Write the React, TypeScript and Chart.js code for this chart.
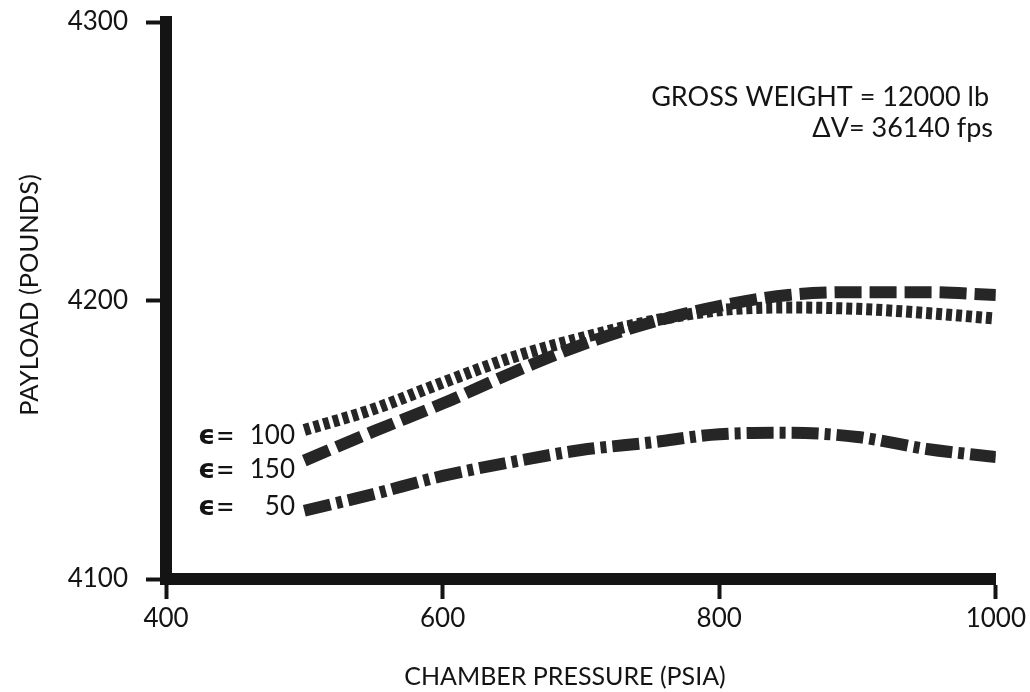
import React, { useEffect, useRef } from "react";
import { Chart, registerables } from "chart.js";

Chart.register(...registerables);

// Chamber pressure (psia) at which each payload curve is sampled
const pressure = [500, 550, 600, 650, 700, 750, 800, 850, 900, 950, 1000];

// Payload (lb) for each nozzle expansion ratio
const eps100 = [4153.5, 4161, 4170.5, 4179.5, 4186.5, 4192.5, 4196.5, 4197.5, 4197, 4195.5, 4193.5];
const eps150 = [4142.5, 4153, 4163, 4174, 4184, 4192, 4198, 4202, 4203, 4203, 4202];
const eps50 = [4124.5, 4130.5, 4137, 4142, 4146.3, 4149, 4152, 4152.5, 4151, 4146.7, 4143.8];

const xTicks = [400, 600, 800, 1000];
const yTicks = [4100, 4200, 4300];

const ratioLabels = ["100", "150", "50"];
const noteLines = ["GROSS WEIGHT = 12000 lb", "ΔV= 36140 fps"];
const xTitle = "CHAMBER PRESSURE (PSIA)";
const yTitle = "PAYLOAD (POUNDS)";

const FONT = "Lato, 'Noto Sans', sans-serif";
const INK = "#141414";
const CURVE = "#262626";

const textPlugin = {
  id: "chartText",
  afterDraw(chart: any) {
    const ctx = chart.ctx as CanvasRenderingContext2D;
    ctx.save();
    ctx.fillStyle = INK;
    ctx.textBaseline = "middle";

    // axis titles
    ctx.font = `25px ${FONT}`;
    ctx.textAlign = "center";
    ctx.fillText(xTitle, 565, 677);
    ctx.save();
    ctx.translate(30, 295);
    ctx.rotate(-Math.PI / 2);
    ctx.font = `25.5px ${FONT}`;
    ctx.fillText(yTitle, 0, 0);
    ctx.restore();

    // gross weight / delta-V note
    ctx.font = `27px ${FONT}`;
    ctx.textAlign = "right";
    ctx.fillText(noteLines[0], 989, 97);
    ctx.fillText(noteLines[1], 993, 128);

    // curve labels: "ϵ=" then the expansion ratio, right-aligned
    const ys = [436, 470, 507];
    ratioLabels.forEach((num, i) => {
      ctx.textAlign = "left";
      ctx.font = `bold 27px 'DejaVu Sans', sans-serif`;
      ctx.fillText("ϵ", 198, ys[i] + 1);
      ctx.font = `32px ${FONT}`;
      ctx.fillText("=", 216, ys[i] + 1);
      ctx.font = `26px ${FONT}`;
      ctx.textAlign = "right";
      ctx.fillText(num, 295, ys[i]);
    });
    ctx.restore();
  },
};

export default function App() {
  const ref = useRef<HTMLCanvasElement>(null);

  useEffect(() => {
    if (!ref.current) return;
    const mk = (x: number[], y: number[]) => x.map((v, i) => ({ x: v, y: y[i] }));
    const base = {
      borderColor: CURVE,
      borderWidth: 12,
      pointRadius: 0,
      fill: false,
      tension: 0.4,
      cubicInterpolationMode: "monotone" as const,
      borderCapStyle: "butt" as const,
    };
    const chart = new Chart(ref.current, {
      type: "line",
      data: {
        datasets: [
          { ...base, label: "ϵ= " + ratioLabels[0], data: mk(pressure, eps100), borderDash: [6, 4] },
          { ...base, label: "ϵ= " + ratioLabels[1], data: mk(pressure, eps150), borderDash: [27, 8] },
          { ...base, label: "ϵ= " + ratioLabels[2], data: mk(pressure, eps50), borderDash: [27, 6, 6, 6] },
        ],
      },
      options: {
        responsive: false,
        animation: false,
        layout: { padding: { top: 22, right: 31, bottom: 0, left: 0 } },
        plugins: { legend: { display: false }, tooltip: { enabled: false }, title: { display: false } },
        scales: {
          x: {
            type: "linear",
            min: 400,
            max: 1000,
            afterBuildTicks: (s: any) => {
              s.ticks = xTicks.map((v) => ({ value: v }));
            },
            afterFit: (s: any) => {
              s.height = 113;
            },
            grid: { drawOnChartArea: false, drawTicks: true, tickLength: 20, tickWidth: 4, color: INK },
            border: { display: true, width: 12, color: INK },
            ticks: {
              color: INK,
              padding: 4,
              maxRotation: 0,
              font: { family: FONT, size: 26 },
              callback: (v: any) => String(v),
            },
          },
          y: {
            type: "linear",
            min: 4100,
            max: 4300,
            afterBuildTicks: (s: any) => {
              s.ticks = yTicks.map((v) => ({ value: v }));
            },
            afterFit: (s: any) => {
              s.width = 166;
              s.paddingTop = 0;
              s.paddingBottom = 0;
            },
            grid: { drawOnChartArea: false, drawTicks: true, tickLength: 20, tickWidth: 4, color: INK },
            border: { display: true, width: 12, color: INK },
            ticks: {
              color: INK,
              padding: 18,
              font: { family: FONT, size: 26 },
              callback: (v: any) => String(v),
            },
          },
        },
      },
      plugins: [textPlugin],
    });
    return () => chart.destroy();
  }, []);

  return (
    <div style={{ position: "fixed", left: 0, top: 0, width: 1030, height: 692, background: "#fff" }}>
      <canvas ref={ref} width={1030} height={692} />
    </div>
  );
}
